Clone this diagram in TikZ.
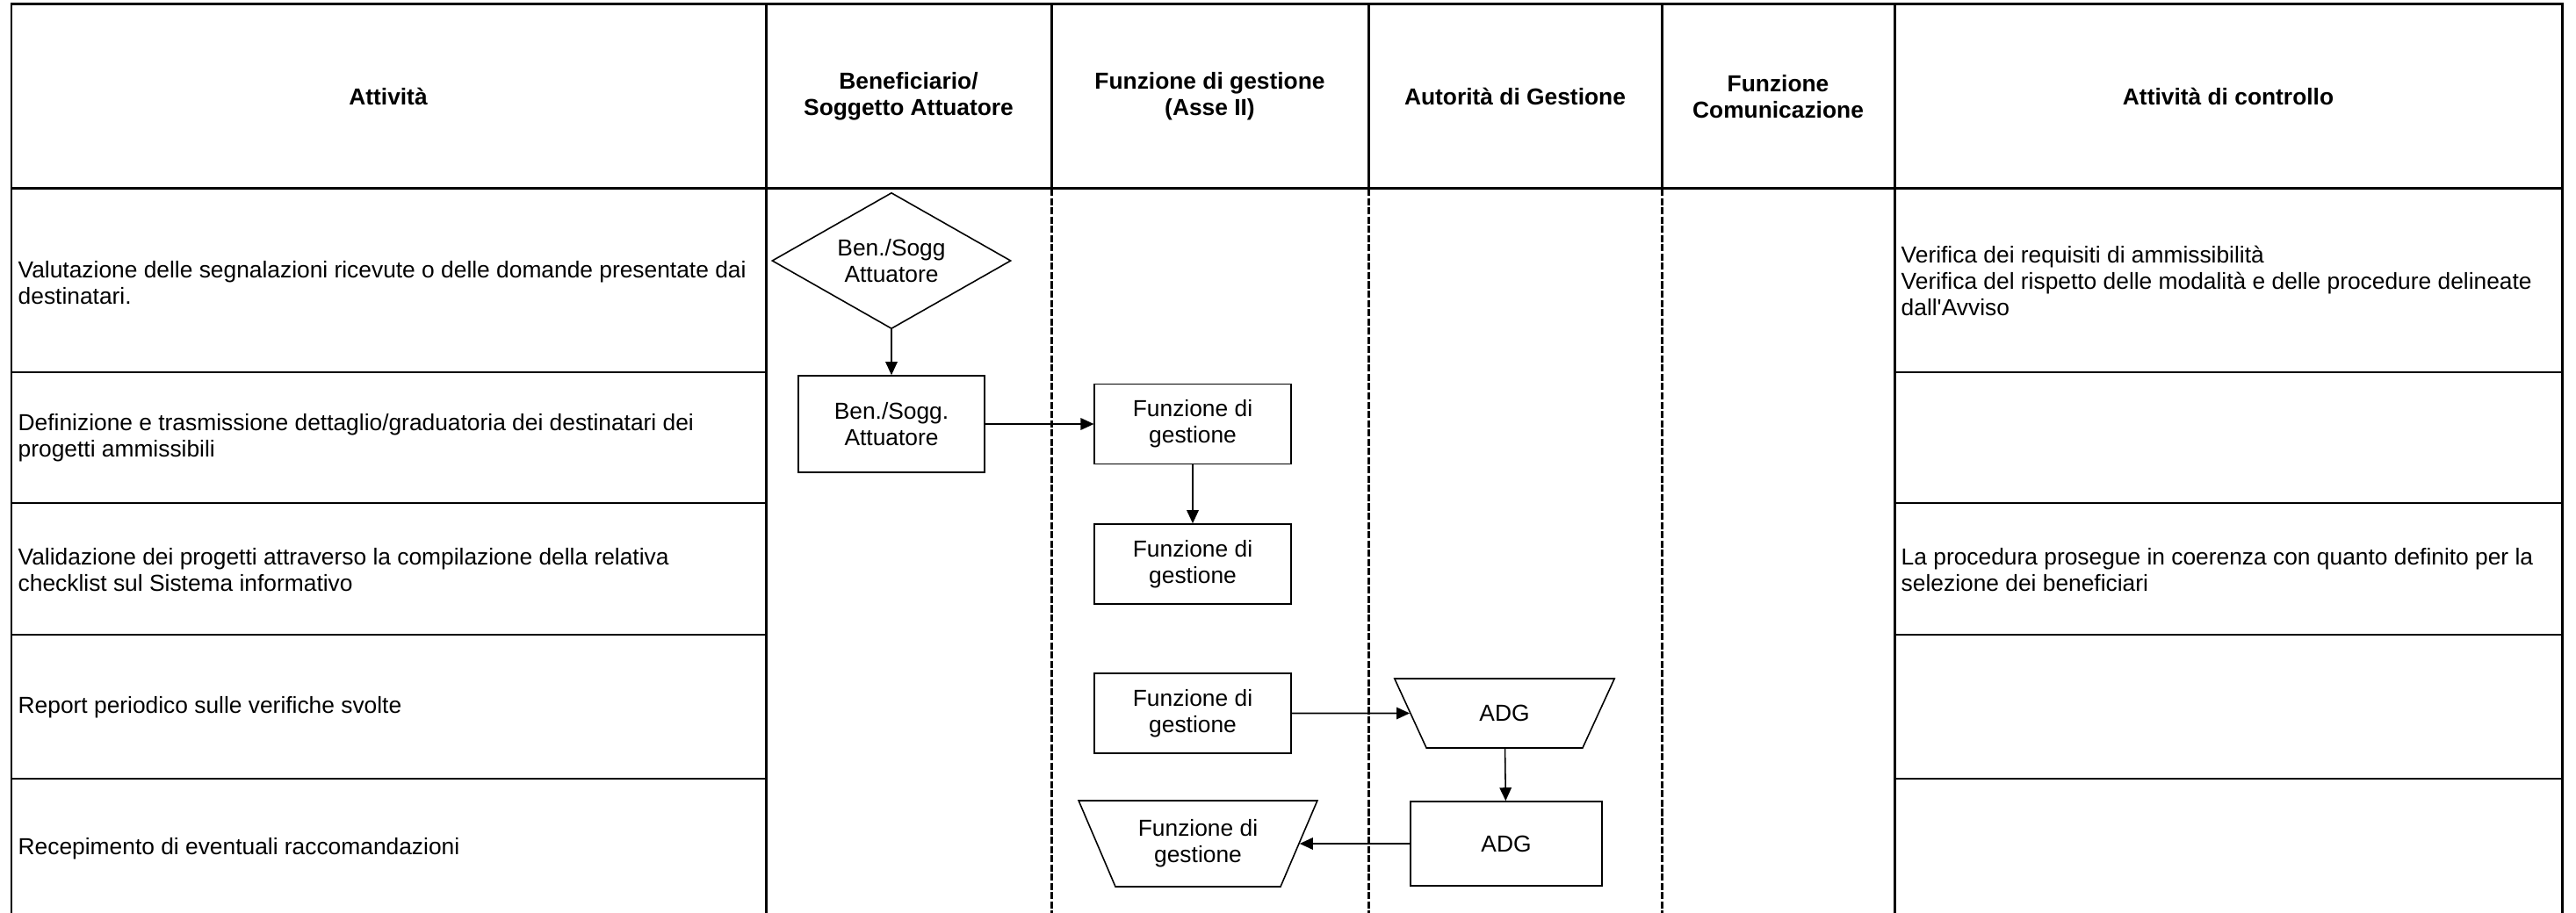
\documentclass[tikz,border=0pt]{standalone}
\usepackage{fontspec}
\setmainfont{Liberation Sans}
\usetikzlibrary{shapes.geometric,arrows.meta}

\begin{document}
\begin{tikzpicture}[
frame/.style={line width=0.85pt},
lane/.style={line width=0.85pt, dash pattern=on 2.3pt off 0.7pt},
procbox/.style={rectangle, draw, line width=0.45pt, align=center, inner sep=0pt, minimum width=2.235cm, minimum height=0.91cm},
decnode/.style={diamond, aspect=1.75, draw, line width=0.45pt, align=center, inner sep=0pt, minimum width=2.72cm, minimum height=1.55cm},
trapnode/.style={trapezium, draw, line width=0.45pt, align=center, inner sep=0pt, shape border rotate=180, trapezium stretches=true},
headtext/.style={font=\fontsize{7.5}{8.6}\selectfont\bfseries, align=center, inner sep=0pt},
celltext/.style={align=left, anchor=west, inner sep=0pt},
flow/.style={->, line width=0.45pt},
>={Triangle[length=1.5mm,width=1.35mm]},
font=\fontsize{7.5}{8.6}\selectfont
]
\useasboundingbox (0,0) rectangle (29.33,-10.40);

% griglia della tabella
\draw[frame] (0.13,-10.40) -- (0.13,-0.05) -- (29.17,-0.05) -- (29.17,-10.40);
\draw[frame] (0.13,-2.15) -- (29.17,-2.15);
\draw[frame] (8.72,-0.05) -- (8.72,-10.40);
\draw[frame] (21.57,-0.05) -- (21.57,-10.40);
\draw[frame] (11.97,-0.05) -- (11.97,-2.15);
\draw[frame] (15.58,-0.05) -- (15.58,-2.15);
\draw[frame] (18.92,-0.05) -- (18.92,-2.15);
\draw[lane] (11.97,-2.15) -- (11.97,-10.40);
\draw[lane] (15.58,-2.15) -- (15.58,-10.40);
\draw[lane] (18.92,-2.15) -- (18.92,-10.40);

\draw[frame] (0.13,-4.24) -- (8.72,-4.24);
\draw[frame] (0.13,-5.73) -- (8.72,-5.73);
\draw[frame] (0.13,-7.23) -- (8.72,-7.23);
\draw[frame] (0.13,-8.87) -- (8.72,-8.87);
\draw[frame] (21.57,-4.24) -- (29.17,-4.24);
\draw[frame] (21.57,-5.73) -- (29.17,-5.73);
\draw[frame] (21.57,-7.23) -- (29.17,-7.23);
\draw[frame] (21.57,-8.87) -- (29.17,-8.87);

% intestazioni
\node[headtext] (h1) at (4.42,-1.10) {Attività};
\node[headtext] (h2) at (10.345,-1.10) {Beneficiario/\\Soggetto Attuatore};
\node[headtext] (h3) at (13.775,-1.10) {Funzione di gestione\\(Asse II)};
\node[headtext] (h4) at (17.25,-1.10) {Autorità di Gestione};
\node[headtext] (h5) at (20.245,-1.10) {Funzione\\Comunicazione};
\node[headtext] (h6) at (25.37,-1.10) {Attività di controllo};

% attivita
\node[celltext] (a1) at (0.20,-3.22) {Valutazione delle segnalazioni ricevute o delle domande presentate dai\\destinatari.};
\node[celltext] (a2) at (0.20,-4.99) {Definizione e trasmissione dettaglio/graduatoria dei destinatari dei\\progetti ammissibili};
\node[celltext] (a3) at (0.20,-6.49) {Validazione dei progetti attraverso la compilazione della relativa\\checklist sul Sistema informativo};
\node[celltext] (a4) at (0.20,-8.06) {Report periodico sulle verifiche svolte};
\node[celltext] (a5) at (0.20,-9.67) {Recepimento di eventuali raccomandazioni};

% controlli
\node[celltext] (c1) at (21.64,-3.20) {Verifica dei requisiti di ammissibilità\\Verifica del rispetto delle modalità e delle procedure delineate\\dall\textquotesingle Avviso};
\node[celltext] (c3) at (21.64,-6.49) {La procedura prosegue in coerenza con quanto definito per la\\selezione dei beneficiari};

% flusso
\node[decnode] (ben1) at (10.15,-2.97) {Ben./Sogg\\Attuatore};
\node[procbox, minimum width=2.12cm, minimum height=1.10cm] (ben2) at (10.15,-4.83) {Ben./Sogg.\\Attuatore};
\node[procbox] (fdg1) at (13.58,-4.83) {Funzione di\\gestione};
\node[procbox] (fdg2) at (13.58,-6.425) {Funzione di\\gestione};
\node[procbox] (fdg3) at (13.58,-8.125) {Funzione di\\gestione};
\node[trapnode, trapezium angle=58, minimum width=2.51cm, minimum height=0.79cm] (adg1) at (17.13,-8.125) {ADG};
\node[procbox, minimum width=2.18cm, minimum height=0.96cm] (adg2) at (17.15,-9.61) {ADG};
\node[trapnode, trapezium angle=61, minimum width=2.725cm, minimum height=0.98cm] (fdg4) at (13.64,-9.61) {Funzione di\\gestione};

\draw[flow] (ben1) edge (ben2);
\draw[flow] (ben2) edge (fdg1);
\draw[flow] (fdg1) edge (fdg2);
\draw[flow] (fdg3) edge (adg1);
\draw[flow] (adg1) edge (adg2);
\draw[flow] (adg2) edge (fdg4);
\end{tikzpicture}
\end{document}
